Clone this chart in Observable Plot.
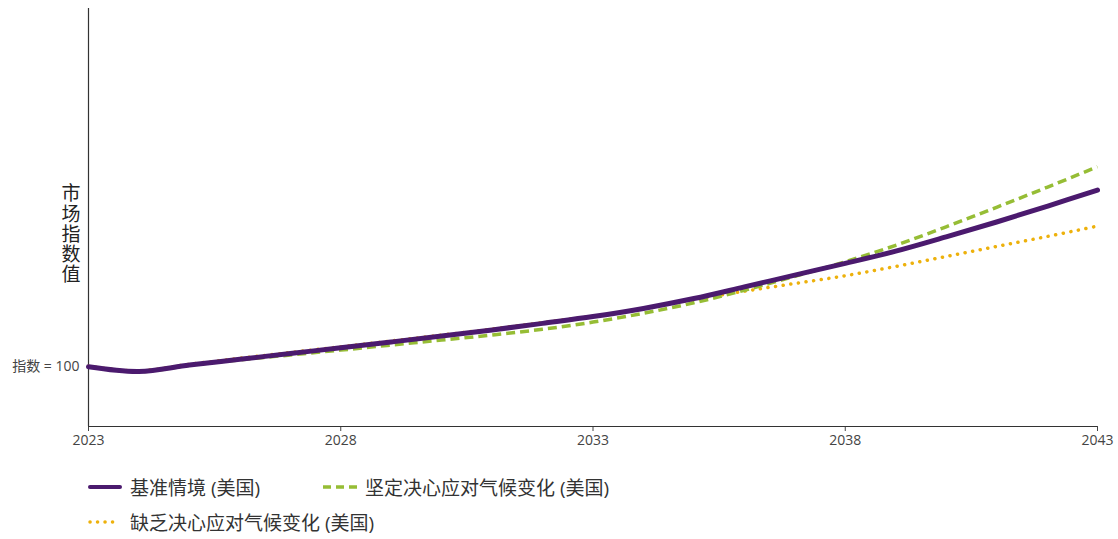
<!DOCTYPE html>
<html><head><meta charset="utf-8">
<script src="https://cdn.jsdelivr.net/npm/d3@7"></script>
<script src="https://cdn.jsdelivr.net/npm/@observablehq/plot@0.6"></script>
<style>
body{margin:0;background:#fff;font-family:"Open Sans","Noto Sans CJK SC",sans-serif;}
#legend{display:grid;grid-template-columns:235px auto;row-gap:11px;padding-left:88px;margin-top:25px;font-size:19px;color:#333;}
.item{display:flex;align-items:center;height:24px;white-space:nowrap}
.item svg{margin-right:8px;flex:none}
</style></head><body><div id="chart"></div><div id="legend"></div>
<script>
const years = [2023,2024,2025,2026,2027,2028,2029,2030,2031,2032,2033,2034,2035,2036,2037,2038,2039,2040,2041,2042,2043];
const baseline  = [100.0,98.43,100.60,102.51,104.45,106.36,108.31,110.28,112.33,114.54,116.81,119.55,122.85,126.75,130.71,134.63,138.75,143.54,148.50,153.76,159.18];
const committed = [100.0,98.33,100.50,102.34,103.95,105.59,107.27,108.94,110.65,112.56,114.97,117.92,121.44,125.62,130.31,135.17,140.69,146.89,153.42,160.12,166.99];
const lacking   = [100.17,98.66,100.84,102.85,104.79,106.70,108.64,110.62,112.66,114.80,117.01,119.46,122.50,125.30,127.90,130.50,133.60,136.95,140.30,143.62,147.12];
const seriesNames = ["基准情境 (美国)", "坚定决心应对气候变化 (美国)", "缺乏决心应对气候变化 (美国)"];
const xTicks = [2023,2028,2033,2038,2043];
const yTicks = [100];
const yTickLabels = ["指数 = 100"];
const yLabel = "市场指数值";

const colors = ["#4b1a6e", "#96bd35", "#edb10c"];
const styles = [
  {strokeWidth: 5, strokeDasharray: null, strokeLinecap: "round"},
  {strokeWidth: 3.5, strokeDasharray: "9,5", strokeLinecap: "butt"},
  {strokeWidth: 3.5, strokeDasharray: "0.1,7.6", strokeLinecap: "round"}
];
const allValues = [baseline, committed, lacking];
const rows = seriesNames.map((name, k) => years.map((yr, i) => ({year: yr, value: allValues[k][i], series: name})));

const lineMark = k => Plot.lineY(rows[k], {
  x: "year", y: "value", stroke: colors[k], curve: "catmull-rom",
  strokeWidth: styles[k].strokeWidth,
  strokeDasharray: styles[k].strokeDasharray || undefined,
  strokeLinecap: styles[k].strokeLinecap
});

const chart = Plot.plot({
  width: 1118, height: 450,
  marginLeft: 88, marginRight: 21, marginTop: 8, marginBottom: 24,
  style: {fontFamily: '"Open Sans","Noto Sans CJK SC",sans-serif', fontSize: "14px", color: "#444", background: "#fff"},
  x: {domain: [2023, 2043], ticks: xTicks, tickFormat: d => String(d), tickSize: 5, label: null},
  y: {domain: [80, 220], ticks: yTicks, tickFormat: (d, i) => yTickLabels[i], tickSize: 0, tickPadding: 9, label: null},
  marks: [
    Plot.ruleX([2023], {stroke: "#333", strokeWidth: 1.2}),
    Plot.ruleY([80], {stroke: "#333", strokeWidth: 1.2}),
    lineMark(2), lineMark(1), lineMark(0),
    Plot.text([yLabel], {text: d => d, frameAnchor: "left", dx: -19, dy: 10.5, fontSize: 19, fill: "#222", textAnchor: "middle", className: "ylab"})
  ]
});
document.getElementById("chart").appendChild(chart);
chart.querySelectorAll(".ylab text").forEach(t => {
  t.removeAttribute("dy");
  t.setAttribute("dominant-baseline", "central");
  t.style.writingMode = "vertical-rl";
  t.style.textOrientation = "upright";
  t.style.letterSpacing = "1.2px";
});

const legend = document.getElementById("legend");
seriesNames.forEach((name, k) => {
  const item = document.createElement("div");
  item.className = "item";
  const s = styles[k];
  item.innerHTML = `<svg width="34" height="10"><line x1="${s.strokeLinecap === "round" ? 2 : 0}" x2="${s.strokeLinecap === "round" ? 32 : 34}" y1="5" y2="5" stroke="${colors[k]}" stroke-width="${k === 0 ? 4 : 3.5}" ${s.strokeDasharray ? `stroke-dasharray="${k === 1 ? "8,5" : "0.1,7.4"}"` : ""} stroke-linecap="${s.strokeLinecap}"/></svg><span>${name}</span>`;
  legend.appendChild(item);
});
</script>
</body></html>
